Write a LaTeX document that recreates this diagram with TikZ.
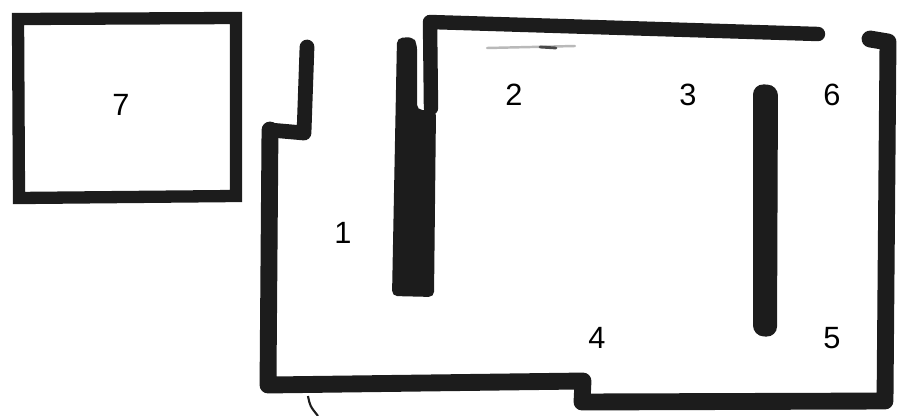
\documentclass[tikz,border=0pt]{standalone}
\usepackage{fontspec}
\setmainfont{Liberation Sans}
\definecolor{ink}{HTML}{1C1C1C}
\begin{document}
\begin{tikzpicture}[x=0.02cm,y=-0.02cm,
  wall/.style={draw=ink,line width=8.2pt,line cap=round,line join=round},
  boxwall/.style={draw=ink,line width=7pt,line cap=round,line join=miter},
  lbl/.style={font=\fontsize{17.5}{20}\selectfont,text=black,inner sep=0pt}]
\useasboundingbox (0,0) rectangle (900,416);
% room 7
\draw[boxwall] (18,19) -- (236,18) -- (236,196) -- (19,198) -- cycle;
% outer left wall, bottom, right
\draw[wall,line width=8.4pt] (307,47) -- (304,133) -- (270,130);
\draw[wall,line width=9.6pt] (270,130) -- (268,385) -- (583,381) -- (582,402) -- (885,401) -- (888,42) -- (870,39);
% top wall with narrow stub
\draw[wall] (431,108) -- (430,22) -- (818,34);
% thick block
\fill[ink,rounded corners=3pt] (397,38) -- (413,37) -- (417,44) -- (417,110) -- (424,110) -- (436,110) -- (434,297) -- (392,296) -- cycle;
% middle right bar
\fill[ink,rounded corners=6pt] (753,84) -- (778,85) -- (777,337) -- (753,336) -- cycle;
% faint smudges
\draw[gray!55,line width=1.4pt,line cap=round] (487,48) -- (575,46);
\draw[ink!80,line width=1.6pt,line cap=round] (540,47) -- (556,48);
\draw[ink,line width=1.2pt] (308,396) .. controls (310,406) .. (318,416);
% labels
\node[lbl] (n1) at (343,233) {1};
\node[lbl] (n2) at (514,95) {2};
\node[lbl] (n3) at (688,95) {3};
\node[lbl] (n6) at (832,95) {6};
\node[lbl] (n4) at (597,338) {4};
\node[lbl] (n5) at (832,338) {5};
\node[lbl] (n7) at (121,105) {7};
\end{tikzpicture}
\end{document}
